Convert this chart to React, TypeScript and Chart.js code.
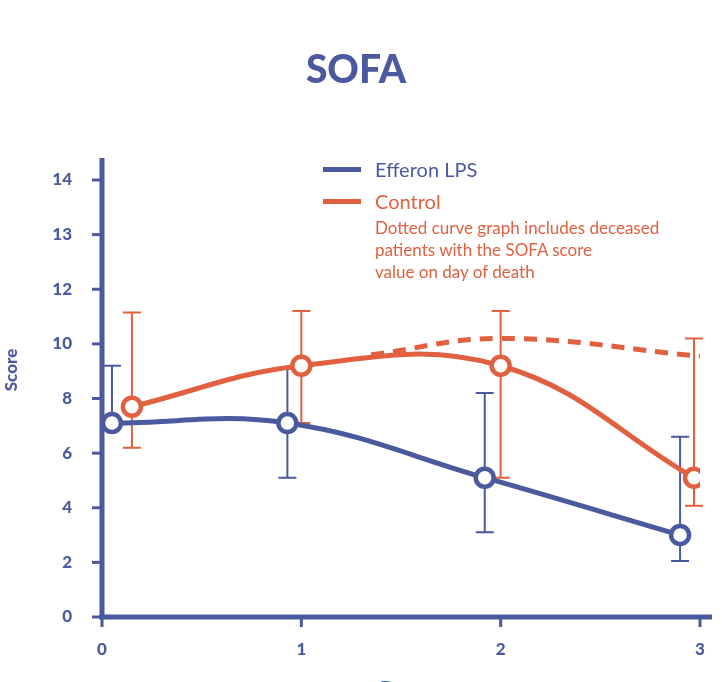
import React, { useEffect, useRef } from "react";
import { Chart, registerables } from "chart.js";
Chart.register(...registerables);

const BLUE = "#4b5a9e";
const ORANGE = "#e0603f";
const FONT = "Lato, 'Open Sans', sans-serif";

const effX = [0.05, 0.93, 1.92, 2.9];
const effY = [7.1, 7.1, 5.1, 3.0];
const effHi = [9.2, 9.1, 8.2, 6.6];
const effLo = [7.1, 5.1, 3.1, 2.05];
const ctlX = [0.15, 1.0, 2.0, 2.97];
const ctlY = [7.7, 9.2, 9.2, 5.1];
const ctlHi = [11.15, 11.2, 11.2, 10.2];
const ctlLo = [6.2, 7.1, 5.1, 4.07];
const dashX = [1.35, 2.0, 3.0];
const dashY = [9.6, 10.2, 9.55];
const yTickLabels: Record<number, string> = { 0: "0", 2: "2", 4: "4", 6: "6", 8: "8", 10: "10", 12: "12", 14: "13", 16: "14" };
const xTicks = [0, 1, 2, 3];

export default function App() {
  const ref = useRef<HTMLCanvasElement>(null);
  useEffect(() => {
    document.body.style.margin = "0";
    const pts = (xs: number[], ys: number[]) => xs.map((x, i) => ({ x, y: ys[i] }));
    const deco = {
      id: "deco",
      beforeDatasetsDraw(c: any) {
        const g = c.ctx, x = c.scales.x, y = c.scales.y;
        g.save();
        g.strokeStyle = BLUE; g.lineWidth = 5;
        const x0 = x.getPixelForValue(0), y0 = y.getPixelForValue(0);
        g.beginPath(); g.moveTo(x0, 158); g.lineTo(x0, y0 + 2.5); g.stroke();
        g.beginPath(); g.moveTo(x0 - 2.5, y0); g.lineTo(712, y0); g.stroke();
        g.lineWidth = 3;
        for (const v of Object.keys(yTickLabels).map(Number)) {
          const p = y.getPixelForValue(v);
          g.beginPath(); g.moveTo(x0 - 10, p); g.lineTo(x0, p); g.stroke();
        }
        for (const v of xTicks) {
          const p = x.getPixelForValue(v);
          g.beginPath(); g.moveTo(p, y0); g.lineTo(p, y0 + 10); g.stroke();
        }
        const bars = (xs: number[], hi: number[], lo: number[], col: string) => {
          g.strokeStyle = col; g.lineWidth = 2;
          xs.forEach((v, i) => {
            const px = x.getPixelForValue(v), a = y.getPixelForValue(hi[i]), b = y.getPixelForValue(lo[i]);
            g.beginPath(); g.moveTo(px, a); g.lineTo(px, b);
            g.moveTo(px - 9, a); g.lineTo(px + 9, a);
            g.moveTo(px - 9, b); g.lineTo(px + 9, b); g.stroke();
          });
        };
        bars(effX, effHi, effLo, BLUE);
        bars(ctlX, ctlHi, ctlLo, ORANGE);
        g.fillStyle = BLUE; g.font = `900 19px ${FONT}`; g.textAlign = "center"; g.textBaseline = "middle";
        g.fillText("Days", (x0 + x.getPixelForValue(3)) / 2, 689);
        g.save(); g.translate(12, 370); g.rotate(-Math.PI / 2); g.font = `900 17px ${FONT}`;
        g.fillText("Score", 0, 0); g.restore();
        g.restore();
      },
    };
    const line = (data: any, col: string, extra: any = {}) => ({
      data, borderColor: col, borderWidth: 5, tension: 0.4, pointRadius: 9, pointBorderWidth: 4.5,
      pointBackgroundColor: "#fff", pointBorderColor: col, ...extra,
    });
    const chart = new Chart(ref.current!, {
      type: "line",
      data: {
        datasets: [
          line(pts(dashX, dashY), ORANGE, { borderDash: [13, 9], pointRadius: 0, order: 3 }),
          line(pts(effX, effY), BLUE, { order: 2 }),
          line(pts(ctlX, ctlY), ORANGE, { order: 1 }),
        ] as any,
      },
      options: {
        animation: false, responsive: false,
        layout: { padding: { top: 180, right: 22, left: 0, bottom: 0 } },
        plugins: { legend: { display: false }, tooltip: { enabled: false } },
        scales: {
          x: {
            type: "linear", min: 0, max: 3, grid: { display: false }, border: { display: false },
            afterFit: (s: any) => { s.height = 65; },
            afterBuildTicks: (s: any) => { s.ticks = xTicks.map((v) => ({ value: v })); },
            ticks: { padding: 14, color: BLUE, font: { family: FONT, size: 17, weight: "900" } },
          },
          y: {
            type: "linear", min: 0, max: 16, grid: { display: false }, border: { display: false },
            afterFit: (s: any) => { s.width = 102; },
            ticks: {
              stepSize: 2, padding: 22, color: BLUE, font: { family: FONT, size: 17, weight: "900" },
              callback: (v: any) => yTickLabels[v] ?? "",
            },
          },
        },
      } as any,
      plugins: [deco],
    });
    return () => chart.destroy();
  }, []);
  return (
    <div style={{ position: "relative", width: 722, height: 682, fontFamily: FONT, overflow: "hidden" }}>
      <canvas ref={ref} width={722} height={682} />
      <div style={{ position: "absolute", top: 45, left: 0, width: 712, textAlign: "center", color: BLUE, fontSize: 39, fontWeight: 900 }}>SOFA</div>
      <div style={{ position: "absolute", left: 323, top: 157, color: BLUE, fontSize: 20, display: "flex", alignItems: "center" }}>
        <span style={{ display: "inline-block", width: 38, height: 5, background: BLUE, marginRight: 14 }} />Efferon LPS
      </div>
      <div style={{ position: "absolute", left: 323, top: 189, color: ORANGE, fontSize: 20, display: "flex", alignItems: "center" }}>
        <span style={{ display: "inline-block", width: 38, height: 5, background: ORANGE, marginRight: 14 }} />Control
      </div>
      <div style={{ position: "absolute", left: 375, top: 217, color: ORANGE, fontSize: 17, lineHeight: "22px", whiteSpace: "nowrap" }}>
        Dotted curve graph includes deceased<br />patients with the SOFA score<br />value on day of death
      </div>
    </div>
  );
}
